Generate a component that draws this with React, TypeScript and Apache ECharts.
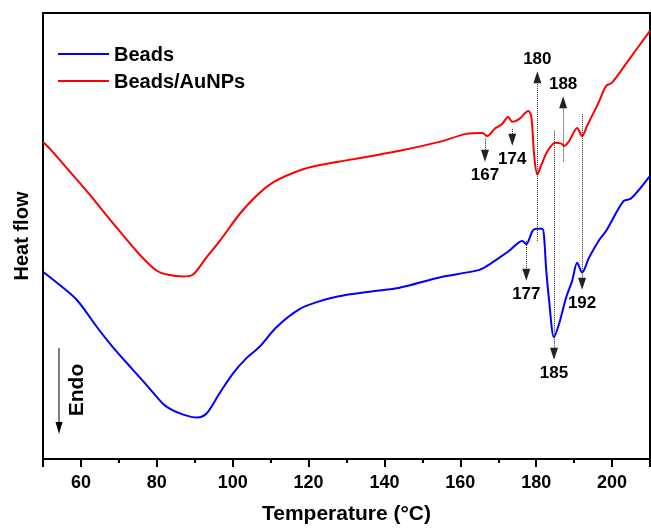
import React, { useEffect, useRef } from "react";
import * as echarts from "echarts";

// Temperature (°C) and heat flow (arbitrary units, 0–100 scale)
const beadsTemp = [50, 54, 59, 64.2, 68.4, 73.7, 78, 81.6, 84, 86.8, 90.5, 93.1, 96.5, 100, 103.5, 107, 111.6, 117.6, 123, 129.5, 137, 144, 154.5, 165, 167.6, 172.9, 176.3, 177.4, 179, 180, 181.6, 182.1, 182.6, 183.4, 184.7, 186, 187.9, 189.5, 190.8, 192.1, 193.9, 196.6, 198.4, 203, 205, 210];
const beadsFlow = [42.0, 39.3, 35.6, 29.6, 25.1, 20.0, 15.9, 12.4, 11.0, 10.0, 9.3, 10.2, 14.7, 19.1, 22.5, 25.1, 29.6, 33.6, 35.4, 36.7, 37.6, 38.4, 40.7, 42.4, 43.6, 46.7, 48.9, 48.2, 51.1, 51.6, 51.6, 49.6, 42.9, 35.6, 27.3, 30.2, 36.2, 40.0, 44.0, 41.8, 45.1, 49.1, 51.1, 57.8, 58.4, 63.5];

const auTemp = [50, 51.8, 56.5, 61.6, 69.5, 75.5, 80, 83, 86.8, 89.5, 93, 96.6, 102, 107, 111, 117.6, 123, 129.5, 137, 144, 154.5, 161.6, 165.8, 167.1, 169, 171, 172.6, 173.7, 175.5, 177.9, 178.7, 179.5, 180.3, 181.3, 182.9, 185, 186.6, 187.4, 188.7, 190.8, 192.1, 193.4, 196.6, 198.4, 200, 204.5, 210];
const auFlow = [71.1, 69.6, 65.0, 60.0, 51.8, 45.8, 42.2, 41.3, 40.9, 41.3, 45.1, 48.9, 55.1, 59.6, 62.2, 64.7, 65.9, 66.9, 68.0, 69.1, 71.1, 72.9, 73.1, 72.4, 74.0, 75.1, 76.7, 75.6, 76.2, 78.0, 76.9, 67.8, 63.8, 65.8, 68.9, 70.9, 70.7, 70.2, 71.3, 74.2, 72.4, 74.7, 80.2, 83.6, 84.4, 89.6, 96.0];

// Peak annotations
const annoLabels = ["167", "174", "180", "188", "177", "185", "192"];
const annoTemp = [166.5, 173.7, 180.3, 187.1, 177.4, 184.7, 192.1];
const annoFrom = [71.8, 74.0, 48.9, 66.7, 48.9, 73.6, 77.3];
const annoTo = [68.0, 71.6, 85.6, 80.0, 41.3, 23.6, 39.3];

const xTickLabels = ["60", "80", "100", "120", "140", "160", "180", "200"];

const FONT = "'Liberation Sans', Arial, sans-serif";

export default function App() {
  const ref = useRef<HTMLDivElement>(null);
  useEffect(() => {
    if (!ref.current) return;
    const chart = echarts.init(ref.current, undefined, { renderer: "svg" });
    const zip = (xs: number[], ys: number[]) => xs.map((x, i) => [x, ys[i]]);
    const markData = annoTemp.map((t, i) => [
      { coord: [t, annoFrom[i]], symbol: "none" },
      {
        coord: [t, annoTo[i]],
        symbol: "triangle",
        label: { show: true, position: "end", formatter: annoLabels[i] },
      },
    ]);
    chart.setOption({
      animation: false,
      textStyle: { fontFamily: FONT },
      grid: { left: 43, right: 1, top: 13, bottom: 65, show: true, borderColor: "#000", borderWidth: 2 },
      legend: {
        left: 58,
        top: 44,
        orient: "vertical",
        padding: 0,
        itemGap: 7,
        itemWidth: 51,
        itemHeight: 2,
        icon: "rect",
        textStyle: { fontFamily: FONT, fontWeight: "bold", fontSize: 20, color: "#000", lineHeight: 20 },
        data: ["Beads", "Beads/AuNPs"],
      },
      xAxis: {
        type: "value",
        min: 50,
        max: 210,
        splitNumber: 8,
        minInterval: 20,
        maxInterval: 20,
        name: "Temperature (°C)",
        nameLocation: "middle",
        nameGap: 43,
        nameTextStyle: { fontFamily: FONT, fontWeight: "bold", fontSize: 21, color: "#000" },
        axisLine: { show: true, lineStyle: { color: "#000", width: 2 } },
        axisTick: { show: true, length: 8, lineStyle: { color: "#000", width: 2 } },
        minorTick: { show: true, splitNumber: 2, length: 4, lineStyle: { color: "#000", width: 2 } },
        splitLine: { show: false },
        axisLabel: {
          showMinLabel: false,
          showMaxLabel: false,
          margin: 14,
          fontFamily: FONT,
          fontWeight: "bold",
          fontSize: 18,
          color: "#000",
          formatter: (v: number) => (xTickLabels.includes(String(v)) ? String(v) : ""),
        },
      },
      yAxis: {
        type: "value",
        min: 0,
        max: 100,
        name: "Heat flow",
        nameLocation: "middle",
        nameGap: 12,
        nameTextStyle: { fontFamily: FONT, fontWeight: "bold", fontSize: 20, color: "#000" },
        axisLine: { show: true, lineStyle: { color: "#000", width: 2 } },
        axisTick: { show: false },
        axisLabel: { show: false },
        splitLine: { show: false },
      },
      series: [
        {
          name: "Beads",
          type: "line",
          data: zip(beadsTemp, beadsFlow),
          symbol: "none",
          smooth: 0.3,
          color: "#0000ff",
          lineStyle: { color: "#0000ff", width: 2 },
          markLine: {
            silent: true,
            symbolSize: [8, 12],
            lineStyle: { color: "#222", width: 1, type: "dotted" },
            label: {
              show: true,
              position: "end",
              distance: 10,
              fontFamily: FONT,
              fontWeight: "bold",
              fontSize: 17,
              color: "#000",
            },
            itemStyle: { color: "#000" },
            emphasis: { disabled: true },
            data: markData,
          },
        },
        {
          name: "Beads/AuNPs",
          type: "line",
          data: zip(auTemp, auFlow),
          symbol: "none",
          smooth: 0.3,
          color: "#ff0000",
          lineStyle: { color: "#ff0000", width: 2 },
        },
      ],
      graphic: [
        {
          type: "line",
          shape: { x1: 59, y1: 348, x2: 59, y2: 424 },
          style: { stroke: "#000", lineWidth: 1 },
        },
        {
          type: "polygon",
          shape: { points: [[55.5, 422], [62.5, 422], [59, 434]] },
          style: { fill: "#000" },
        },
        {
          type: "text",
          x: 75,
          y: 390,
          rotation: Math.PI / 2,
          style: {
            text: "Endo",
            fontFamily: FONT,
            fontWeight: "bold",
            fontSize: 21,
            fill: "#000",
            align: "center",
            verticalAlign: "middle",
          },
        },
      ],
    });
    return () => chart.dispose();
  }, []);
  return <div ref={ref} style={{ position: "fixed", left: 0, top: 0, width: 651, height: 528 }} />;
}
